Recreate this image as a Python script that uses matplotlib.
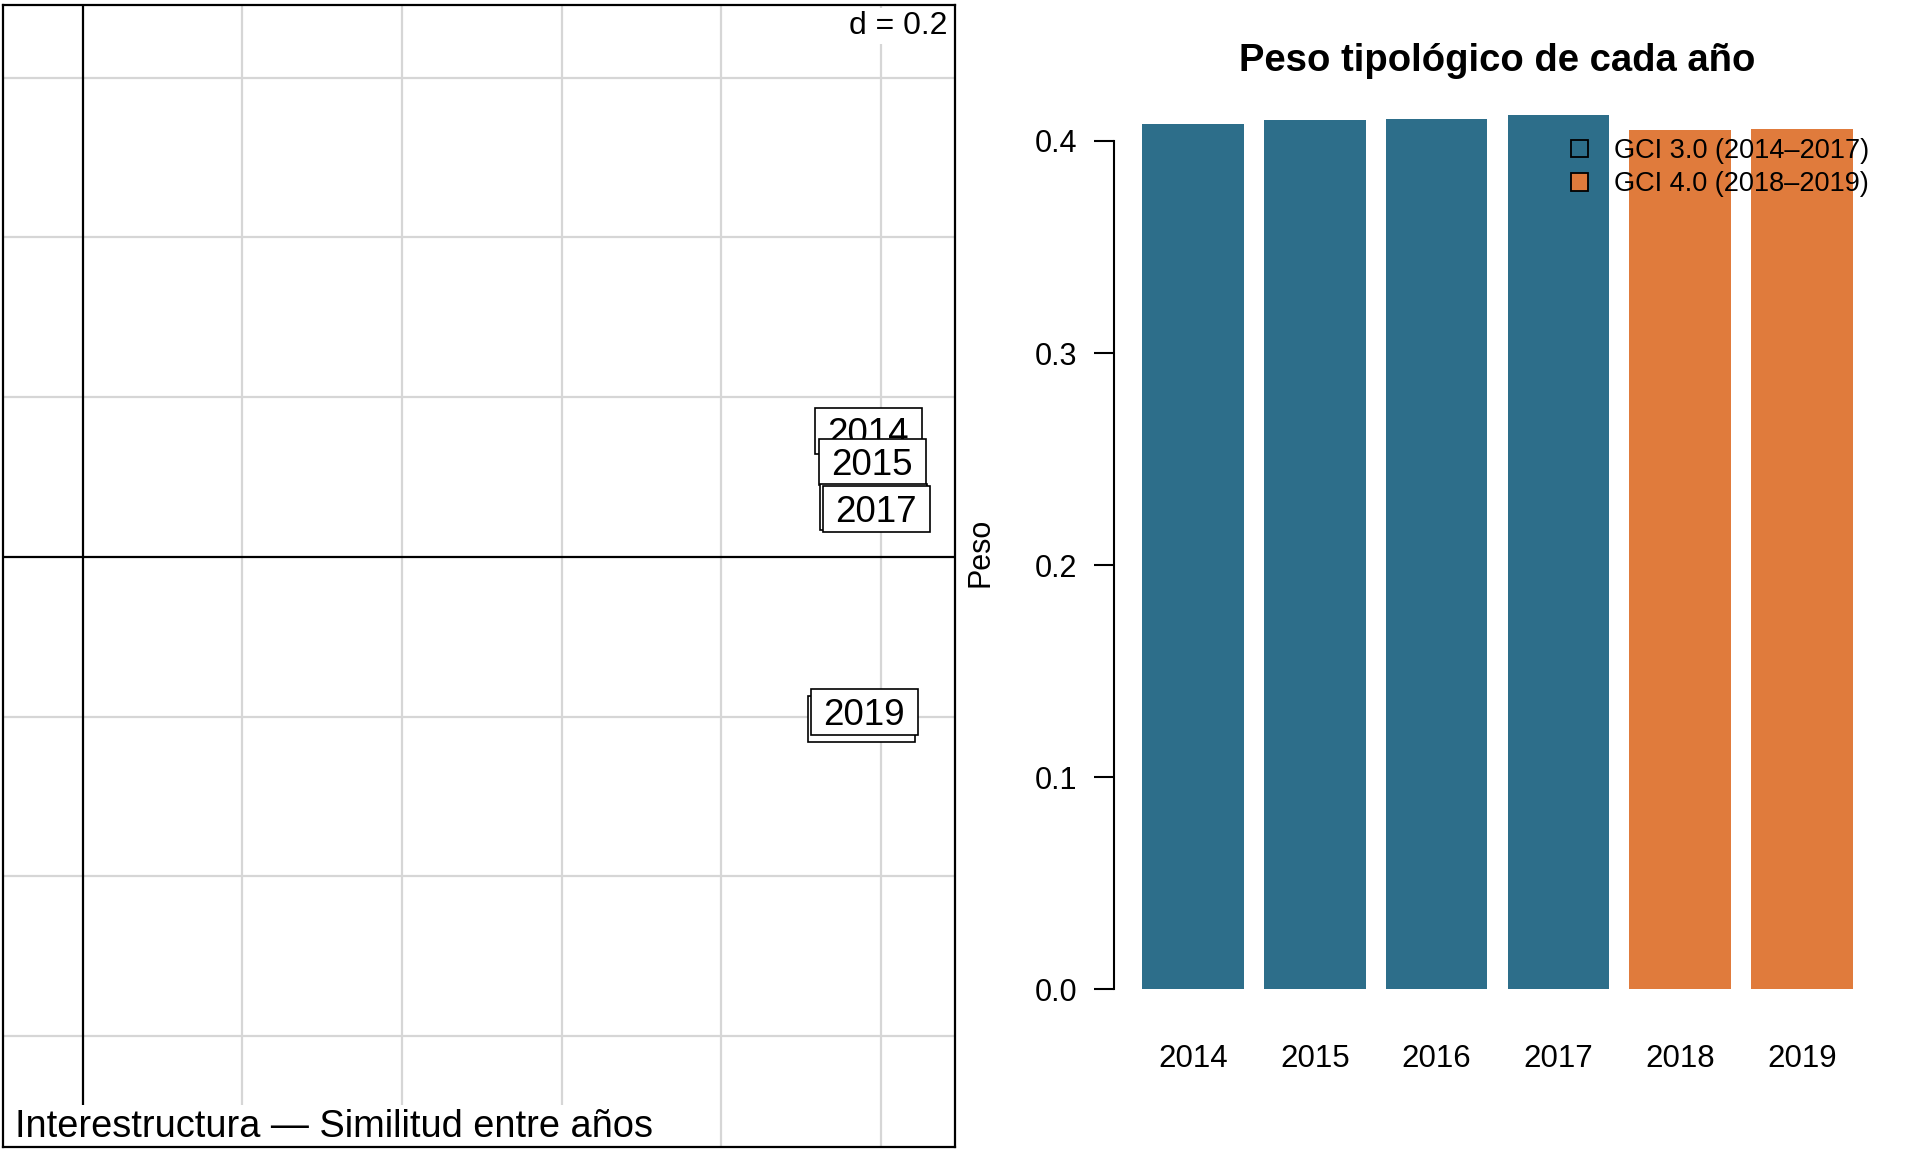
import matplotlib
matplotlib.use("Agg")
import matplotlib.pyplot as plt
import matplotlib.transforms as mtransforms
from matplotlib.patches import Rectangle, Patch
import numpy as np

plt.rcParams['font.family'] = ['Liberation Sans', 'DejaVu Sans']

# ---- data ----
years = ["2014", "2015", "2016", "2017", "2018", "2019"]
coord_x = [0.984, 0.989, 0.990, 0.994, 0.976, 0.979]
coord_y = [0.158, 0.119, 0.063, 0.060, -0.203, -0.194]
weights = [0.408, 0.4099, 0.4104, 0.4122, 0.4053, 0.4057]
groups = ["GCI 3.0", "GCI 3.0", "GCI 3.0", "GCI 3.0", "GCI 4.0", "GCI 4.0"]
legend_labels = ["GCI 3.0 (2014\u20132017)", "GCI 4.0 (2018\u20132019)"]
yticks = [0.0, 0.1, 0.2, 0.3, 0.4]
grid_step = 0.2

col_blue = "#2D6E8A"
col_orange = "#E07B3C"
group_colors = {"GCI 3.0": col_blue, "GCI 4.0": col_orange}

W, H = 1920, 1152
fig = plt.figure(figsize=(W / 100, H / 100), dpi=100)

def px_axes(x0, y0, x1, y1):
    return fig.add_axes([x0 / W, 1 - y1 / H, (x1 - x0) / W, (y1 - y0) / H])

# ---- left panel: s.label style ----
axl = px_axes(3, 5, 955, 1147)
xlim = (-0.0997, 1.0926)
ylim = (-0.739, 0.691)
axl.set_xlim(*xlim)
axl.set_ylim(*ylim)
axl.set_xticks([])
axl.set_yticks([])
for s in axl.spines.values():
    s.set_linewidth(1.6)
    s.set_zorder(20)

gx = [v for v in np.arange(-1.0, 1.21, grid_step) if xlim[0] < v < xlim[1] and abs(v) > 1e-9]
gy = [v for v in np.arange(-1.0, 1.01, grid_step) if ylim[0] < v < ylim[1] and abs(v) > 1e-9]
for v in gx:
    axl.axvline(v, color="#d6d6d6", lw=1.6, zorder=1)
for v in gy:
    axl.axhline(v, color="#d6d6d6", lw=1.6, zorder=1)
axl.axvline(0, color="black", lw=1.6, zorder=2)
axl.axhline(0, color="black", lw=1.6, zorder=2)

box_w, box_h = 1.07, 0.46  # inches
for i, (lab, x, y) in enumerate(zip(years, coord_x, coord_y)):
    tr = fig.dpi_scale_trans + mtransforms.ScaledTranslation(x, y, axl.transData)
    axl.add_patch(Rectangle((-box_w / 2, -box_h / 2), box_w, box_h, transform=tr,
                            facecolor="white", edgecolor="black", lw=1.2,
                            zorder=5 + 2 * i))
    axl.text(x, y, lab, ha="center", va="center_baseline", fontsize=26.5,
             zorder=6 + 2 * i)

axl.text(0.9916, 0.995, "d = %.1f" % grid_step, transform=axl.transAxes,
         ha="right", va="top", fontsize=23, zorder=18,
         bbox=dict(boxstyle="square,pad=0.1", facecolor="white", edgecolor="none"))
axl.text(0.0126, 0.0088, "Interestructura \u2014 Similitud entre a\u00f1os",
         transform=axl.transAxes, ha="left", va="baseline", fontsize=27.4,
         zorder=18,
         bbox=dict(boxstyle="square,pad=0.1", facecolor="white", edgecolor="none"))

# ---- right panel: barplot ----
axr = px_axes(1114, 80, 1881, 1024.4)
pos = [0.7 + 1.2 * i for i in range(len(years))]
cols = [group_colors[g] for g in groups]
axr.bar(pos, weights, width=1.0, color=cols, zorder=2)
axr.set_xlim(-0.08, 7.48)
axr.set_ylim(-0.0165, 0.4287)
axr.set_xticks(pos)
axr.set_xticklabels(years, fontsize=22.5)
axr.tick_params(axis="x", length=0, pad=14)
axr.set_yticks(yticks)
axr.set_yticklabels(["%.1f" % v for v in yticks], fontsize=22)
axr.tick_params(axis="y", length=14.4, width=1.5, pad=12)
for s in ["top", "right", "bottom"]:
    axr.spines[s].set_visible(False)
axr.spines["left"].set_bounds(0, 0.4)
axr.spines["left"].set_linewidth(1.5)
axr.set_ylabel("Peso", fontsize=22)
axr.yaxis.set_label_coords(-0.1551, 0.5)
axr.text(0.5, 1.0205, "Peso tipol\u00f3gico de cada a\u00f1o", transform=axr.transAxes,
         ha="center", va="center", fontsize=27.5, fontweight="bold")

handles = [Patch(facecolor=col_blue, edgecolor="black", lw=1.3),
           Patch(facecolor=col_orange, edgecolor="black", lw=1.3)]
leg = axr.legend(handles, legend_labels, loc="upper left",
                 bbox_to_anchor=(0.5958, 0.9386), frameon=False, fontsize=19.5,
                 handlelength=0.63, handleheight=0.63, handletextpad=0.95,
                 labelspacing=0.27, borderpad=0, borderaxespad=0)
leg.set_zorder(10)

fig.savefig("out.png", dpi=100)
